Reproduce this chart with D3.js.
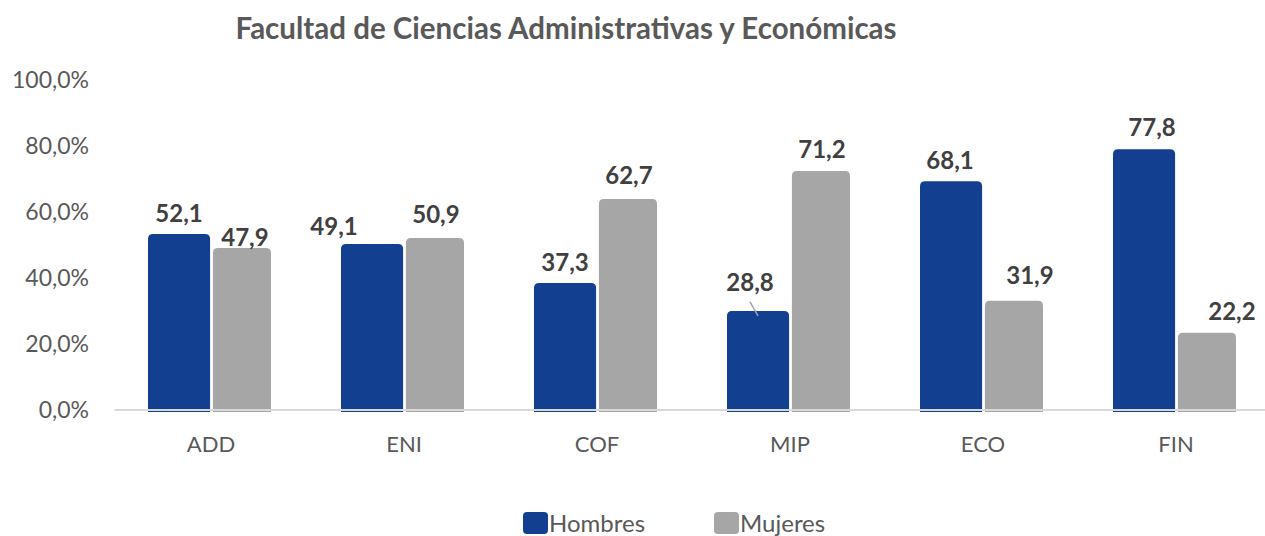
<!DOCTYPE html>
<html>
<head>
<meta charset="utf-8">
<script src="https://cdn.jsdelivr.net/npm/d3@7"></script>
<style>
  html, body { margin: 0; padding: 0; background: #fff; }
  svg { display: block; font-family: Lato, "Open Sans", sans-serif; }
</style>
</head>
<body>
<svg id="chart" width="1265" height="536"></svg>
<script>
const title = 'Facultad de Ciencias Administrativas y Económicas';
const categories = ['ADD', 'ENI', 'COF', 'MIP', 'ECO', 'FIN'];
const seriesNames = ['Hombres', 'Mujeres'];
const hombres = [52.1, 49.1, 37.3, 28.8, 68.1, 77.8];
const mujeres = [47.9, 50.9, 62.7, 71.2, 31.9, 22.2];
const yTicks = [0, 20, 40, 60, 80, 100];

// manual label nudges (Excel moved some labels around), [dx, dy]
const nudgeHombres = [[0, 1], [-38, 4], [0, 1], [-8, -7], [-1, 0], [8, -1]];
const nudgeMujeres = [[2, 11], [0, -2], [0, -2], [0, 0], [15, -4], [24, 0]];

const colors = { Hombres: '#123f8f', Mujeres: '#a6a6a6' };

const svg = d3.select('#chart');
const margin = { left: 114.5, right: -7.5, top: 80, bottom: 126 };
const width = 1265 - margin.left - margin.right;
const height = 536 - margin.top - margin.bottom;

const x0 = d3.scaleBand().domain(categories).range([margin.left, margin.left + width]);
const x1 = d3.scaleBand().domain(seriesNames).range([0, 124]).paddingInner(0.06);
const y = d3.scaleLinear().domain([0, 100]).range([margin.top + height, margin.top]);
const groupOffset = (x0.bandwidth() - 124) / 2;

// title
svg.append('text')
  .attr('x', 566).attr('y', 39)
  .attr('text-anchor', 'middle')
  .style('font-size', '29.5px').style('font-weight', 700)
  .style('fill', '#595959')
  .text(title);

// y tick labels
const yAxis = d3.axisLeft(y).tickValues(yTicks)
  .tickFormat(d => d3.format('.1f')(d).replace('.', ',') + '%')
  .tickSize(0).tickPadding(0);
const yg = svg.append('g').attr('transform', `translate(89,0)`).call(yAxis);
yg.select('.domain').remove();
yg.selectAll('text')
  .style('font-family', 'Lato, sans-serif')
  .style('font-size', '23px').style('fill', '#595959');

const rows = categories.map((c, i) => ({
  cat: c,
  vals: [
    { s: 'Hombres', v: hombres[i], n: nudgeHombres[i] },
    { s: 'Mujeres', v: mujeres[i], n: nudgeMujeres[i] }
  ]
}));

const groups = svg.append('g').selectAll('g')
  .data(rows).enter().append('g')
  .attr('transform', d => `translate(${x0(d.cat) + groupOffset},0)`);

const lift = 4;
const widthAdj = { Hombres: [-1, 2], Mujeres: [0, -2] };

function barPath(x, top, w, bottom, r) {
  return `M${x},${bottom}V${top + r}Q${x},${top} ${x + r},${top}H${x + w - r}Q${x + w},${top} ${x + w},${top + r}V${bottom}Z`;
}

groups.selectAll('path.bar')
  .data(d => d.vals).enter().append('path')
  .attr('class', 'bar')
  .attr('d', d => {
    const xx = x1(d.s) + widthAdj[d.s][0];
    const w = x1.bandwidth() + widthAdj[d.s][1];
    return barPath(xx, y(d.v) - lift, w, y(0) + 2, 5);
  })
  .style('fill', d => colors[d.s]);

// zero line
svg.append('line')
  .attr('x1', margin.left).attr('x2', 1265)
  .attr('y1', y(0)).attr('y2', y(0))
  .style('stroke', '#d9d9d9').style('stroke-width', 2);

// data labels
groups.selectAll('text.lbl')
  .data(d => d.vals).enter().append('text')
  .attr('class', 'lbl')
  .attr('x', d => x1(d.s) + x1.bandwidth() / 2 + d.n[0])
  .attr('y', d => y(d.v) - lift - 21 + d.n[1])
  .attr('dy', '0.35em')
  .attr('text-anchor', 'middle')
  .style('font-size', '24px').style('font-weight', 700)
  .style('fill', '#404040')
  .text(d => d3.format('.1f')(d.v).replace('.', ','));

// leader line for MIP Hombres
groups.filter(d => d.cat === 'MIP').selectAll('line.leader')
  .data(d => d.vals.filter(v => v.s === 'Hombres')).enter().append('line')
  .attr('x1', d => x1(d.s) + x1.bandwidth() / 2 + d.n[0])
  .attr('y1', d => y(d.v) - lift - 21 + d.n[1] + 19)
  .attr('x2', d => x1(d.s) + x1.bandwidth() / 2)
  .attr('y2', d => y(d.v) - lift + 5)
  .style('stroke', '#a6a6a6').style('stroke-width', 1.5);

// category labels
const xAxis = d3.axisBottom(x0).tickSize(0).tickPadding(0);
const xg = svg.append('g').attr('transform', `translate(0,${y(0) + 26})`).call(xAxis);
xg.select('.domain').remove();
xg.selectAll('text')
  .style('font-family', 'Lato, sans-serif')
  .style('font-size', '22px').style('fill', '#595959');

// legend
const legendX = [523, 714];
const legend = svg.append('g').selectAll('g')
  .data(seriesNames).enter().append('g')
  .attr('transform', (d, i) => `translate(${legendX[i]},512)`);
legend.append('rect')
  .attr('width', 25).attr('height', 22).attr('rx', 4)
  .style('fill', d => colors[d]);
legend.append('text')
  .attr('x', 26).attr('y', 20)
  .style('font-size', '24px').style('fill', '#595959')
  .text(d => d);
</script>
</body>
</html>
